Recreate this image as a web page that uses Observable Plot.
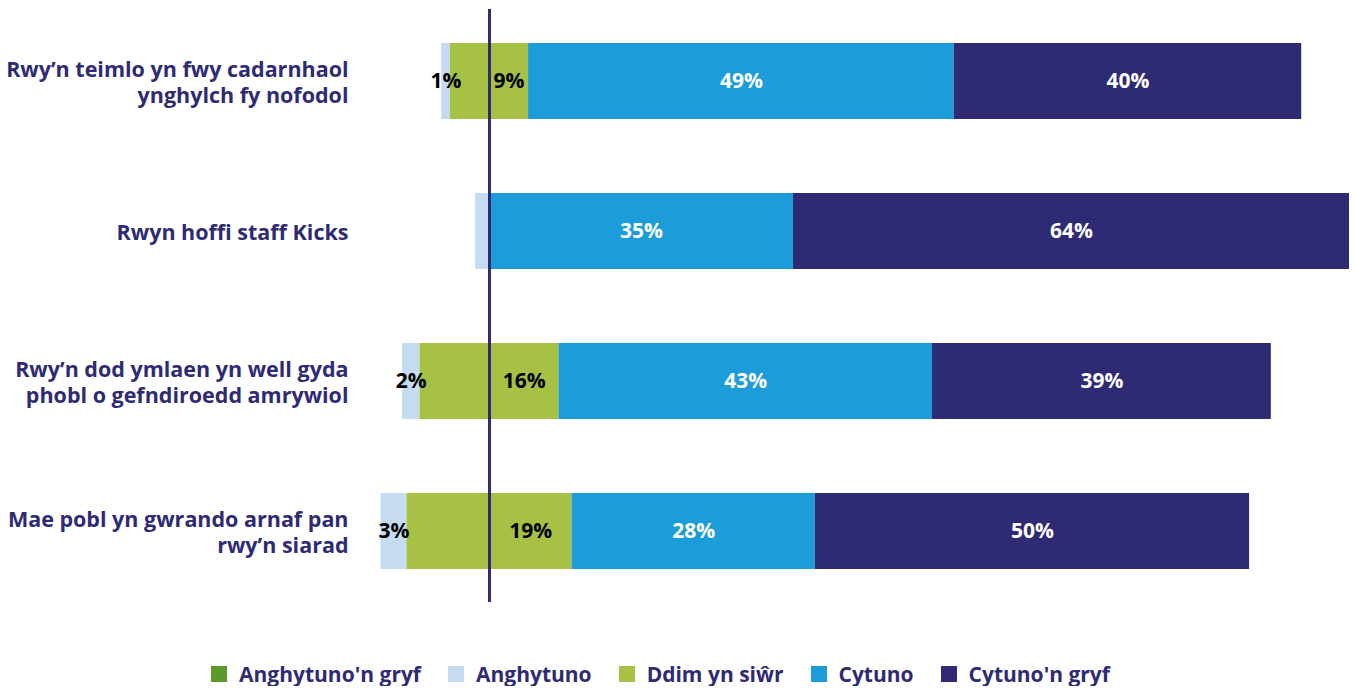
<!DOCTYPE html>
<html><head><meta charset="utf-8">
<script src="https://cdn.jsdelivr.net/npm/d3@7"></script>
<script src="https://cdn.jsdelivr.net/npm/@observablehq/plot@0.6"></script>
<style>
body{margin:0;background:#fff;font-family:"Open Sans",sans-serif;}
#legend{display:flex;justify-content:center;align-items:center;gap:27px;padding-right:34px;margin-top:22px;height:24px;}
.item{display:flex;align-items:center;gap:12px;font-weight:700;font-size:21px;color:#2e2a74;line-height:24px;}
.sw{width:16px;height:16px;display:inline-block;}
</style></head><body><div id="chart"></div><div id="legend"></div>
<script>
const questions = [
  "Rwy’n teimlo yn fwy cadarnhaol\nynghylch fy nofodol",
  "Rwyn hoffi staff Kicks",
  "Rwy’n dod ymlaen yn well gyda\nphobl o gefndiroedd amrywiol",
  "Mae pobl yn gwrando arnaf pan\nrwy’n siarad"
];
const seriesNames = ["Anghytuno'n gryf", "Anghytuno", "Ddim yn siŵr", "Cytuno", "Cytuno'n gryf"];
const seriesColors = ["#5b9a2a", "#c5dbf2", "#a6c144", "#1c9dd9", "#2e2a74"];
const strongDisagree = [0, 0, 0, 0];
const disagree = [1, 1.6, 2, 3];
const disagreeLabels = ["1%", "", "2%", "3%"];
const unsure = [9, 0, 16, 19];
const unsureLabels = ["9%", "", "16%", "19%"];
const agree = [49, 35, 43, 28];
const strongAgree = [40, 64, 39, 50];

const segs = [];
const labels = [];
questions.forEach((q, i) => {
  const h = unsure[i] / 2;
  let left = -h;
  segs.push({q, s: seriesNames[1], x1: left - disagree[i], x2: left});
  if (disagreeLabels[i]) labels.push({q, x: left - disagree[i] / 2, t: disagreeLabels[i], dark: false});
  left -= disagree[i];
  segs.push({q, s: seriesNames[0], x1: left - strongDisagree[i], x2: left});
  segs.push({q, s: seriesNames[2], x1: -h, x2: h});
  if (unsureLabels[i]) labels.push({q, x: h / 2, t: unsureLabels[i], dark: false});
  segs.push({q, s: seriesNames[3], x1: h, x2: h + agree[i]});
  labels.push({q, x: h + agree[i] / 2, t: agree[i] + "%", dark: true});
  segs.push({q, s: seriesNames[4], x1: h + agree[i], x2: h + agree[i] + strongAgree[i]});
  labels.push({q, x: h + agree[i] + strongAgree[i] / 2, t: strongAgree[i] + "%", dark: true});
});

const chart = Plot.plot({
  width: 1355, height: 640,
  marginLeft: 350, marginRight: 6, marginTop: 6, marginBottom: 34,
  style: {fontFamily: "'Open Sans', sans-serif", background: "#fff"},
  x: {domain: [-16, 99], axis: null},
  y: {domain: questions, paddingInner: 0.493, paddingOuter: 0.2465, axis: null},
  color: {domain: seriesNames, range: seriesColors},
  marks: [
    Plot.barX(segs.filter(d => d.x2 > d.x1), {x1: "x1", x2: "x2", y: "q", fill: "s"}),
    Plot.text(labels.filter(d => !d.dark), {x: "x", y: "q", text: "t", fill: "#000", fontSize: 21, fontWeight: 700}),
    Plot.text(labels.filter(d => d.dark), {x: "x", y: "q", text: "t", fill: "#fff", fontSize: 21, fontWeight: 700}),
    Plot.ruleX([0], {stroke: "#2e2a74", strokeWidth: 3, insetTop: 3, insetBottom: 4}),
    Plot.axisY({tickSize: 0, tickPadding: 2, fontSize: 21.5, fontWeight: 700, fill: "#2e2a74", lineHeight: 1.22, label: null})
  ]
});
document.getElementById("chart").append(chart);

const lg = document.getElementById("legend");
seriesNames.forEach((n, i) => {
  const it = document.createElement("div");
  it.className = "item";
  it.innerHTML = `<span class="sw" style="background:${seriesColors[i]}"></span><span>${n}</span>`;
  lg.append(it);
});
</script>
</body></html>
